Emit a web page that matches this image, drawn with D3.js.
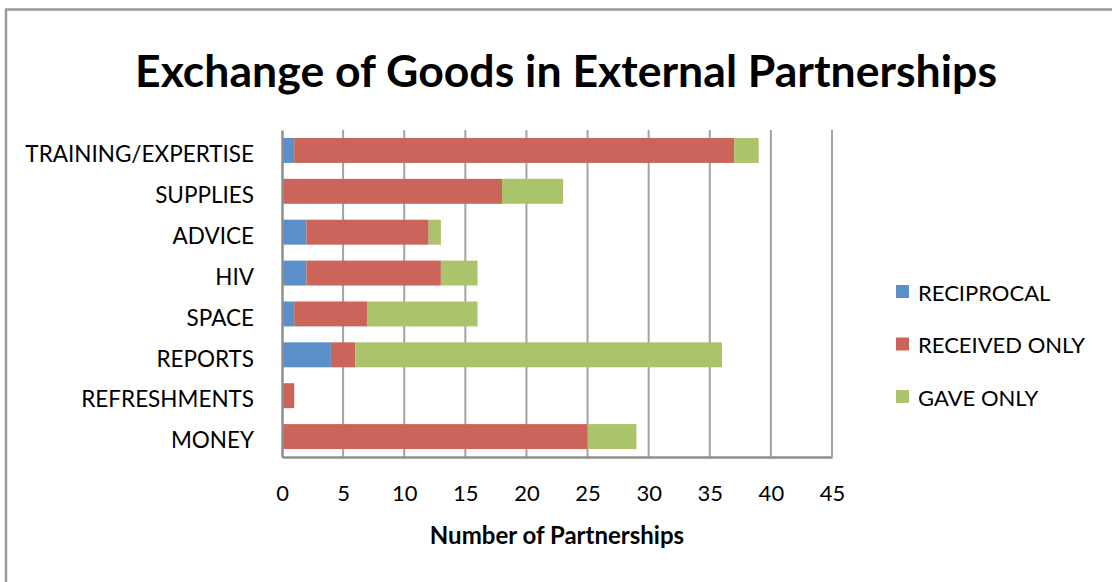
<!DOCTYPE html>
<html>
<head>
<meta charset="utf-8">
<script src="https://cdn.jsdelivr.net/npm/d3@7"></script>
<style>
  html, body { margin: 0; padding: 0; background: #fff; }
  svg { display: block; }
  text { font-family: Lato, "Open Sans", sans-serif; fill: #000; }
</style>
</head>
<body>
<svg id="chart" width="1112" height="582"></svg>
<script>
// Goods exchanged with external partners, counted by direction of exchange
const categories = ["TRAINING/EXPERTISE", "SUPPLIES", "ADVICE", "HIV", "SPACE", "REPORTS", "REFRESHMENTS", "MONEY"];
const reciprocal   = [1, 0, 2, 2, 1, 4, 0, 0];
const receivedOnly = [36, 18, 10, 11, 6, 2, 1, 25];
const gaveOnly     = [2, 5, 1, 3, 9, 30, 0, 4];
const seriesNames  = ["RECIPROCAL", "RECEIVED ONLY", "GAVE ONLY"];
const seriesColors = ["#5b8fc7", "#cb655c", "#abc36b"];
const xTicks = [0, 5, 10, 15, 20, 25, 30, 35, 40, 45];

const svg = d3.select("#chart");

// outer frame (top and left edges visible)
svg.append("path")
  .attr("d", "M6,582 L6,9.5 L1112,9.5")
  .attr("fill", "none").attr("stroke", "#9a9a9a").attr("stroke-width", 2.5);

// title
svg.append("text")
  .attr("x", 566).attr("y", 87)
  .attr("text-anchor", "middle")
  .attr("font-size", 44).attr("font-weight", "bold")
  .attr("textLength", 862).attr("lengthAdjust", "spacingAndGlyphs")
  .text("Exchange of Goods in External Partnerships");

const plot = { left: 282, right: 832, top: 130, bottom: 457 };

const x = d3.scaleLinear().domain([0, 45]).range([plot.left, plot.right]);
const y = d3.scaleBand().domain(categories).range([plot.top, plot.bottom]).paddingInner(0.39).paddingOuter(0.195);

// vertical gridlines
svg.append("g").selectAll("line")
  .data(xTicks.filter(d => d > 0))
  .join("line")
  .attr("x1", d => x(d)).attr("x2", d => x(d))
  .attr("y1", plot.top).attr("y2", plot.bottom)
  .attr("stroke", "#a3a3a3").attr("stroke-width", 2);

// stacked bars
const rows = categories.map((c, i) => ({
  cat: c, RECIPROCAL: reciprocal[i], "RECEIVED ONLY": receivedOnly[i], "GAVE ONLY": gaveOnly[i]
}));
const stacked = d3.stack().keys(seriesNames)(rows);

svg.append("g").selectAll("g")
  .data(stacked)
  .join("g")
  .attr("fill", (d, i) => seriesColors[i])
  .selectAll("rect")
  .data(d => d.filter(s => s[1] - s[0] > 0))
  .join("rect")
  .attr("x", d => x(d[0]))
  .attr("width", d => x(d[1]) - x(d[0]))
  .attr("y", d => y(d.data.cat))
  .attr("height", y.bandwidth());

// x axis
const xAxis = svg.append("g")
  .attr("transform", `translate(0,${plot.bottom})`)
  .call(d3.axisBottom(x).tickValues(xTicks).tickSize(0).tickPadding(28));
xAxis.select(".domain").attr("stroke", "#8e8e8e").attr("stroke-width", 2.5);
xAxis.selectAll("text").attr("font-size", 22).attr("font-family", "Lato, sans-serif").attr("fill", "#000");

// y axis
const yAxis = svg.append("g")
  .attr("transform", `translate(${plot.left},0)`)
  .call(d3.axisLeft(y).tickSize(0).tickPadding(28));
yAxis.select(".domain").attr("stroke", "#8e8e8e").attr("stroke-width", 2.5);
yAxis.selectAll("text")
  .attr("font-size", 22.5).attr("font-family", "Lato, sans-serif").attr("fill", "#000")
  .attr("dy", "0.52em");

// x axis title
svg.append("text")
  .attr("x", 557).attr("y", 544)
  .attr("text-anchor", "middle")
  .attr("font-size", 24).attr("font-weight", "bold")
  .text("Number of Partnerships");

// legend
const legend = svg.append("g").selectAll("g")
  .data(seriesNames)
  .join("g")
  .attr("transform", (d, i) => `translate(896,${292 + i * 52.5})`);
legend.append("rect")
  .attr("x", 0).attr("y", -7).attr("width", 13).attr("height", 13)
  .attr("fill", (d, i) => seriesColors[i]);
legend.append("text")
  .attr("x", 22).attr("y", 0).attr("dy", "0.4em")
  .attr("font-size", 22)
  .text(d => d);
</script>
</body>
</html>
